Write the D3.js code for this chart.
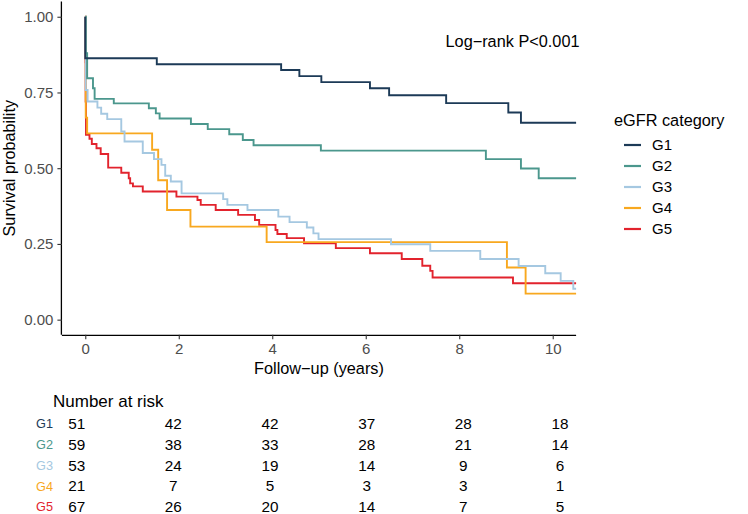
<!DOCTYPE html>
<html>
<head>
<meta charset="utf-8">
<script src="https://cdn.jsdelivr.net/npm/d3@7"></script>
<style>
  html, body { margin: 0; padding: 0; background: #ffffff; }
  svg { display: block; font-family: "Liberation Sans", Arial, Helvetica, sans-serif; }
</style>
</head>
<body>
<svg id="chart" width="748" height="514"></svg>
<script>
// ---------------- data ----------------
const groups = ["G1", "G2", "G3", "G4", "G5"];
const groupColors = ["#1c3a57", "#4b978d", "#a5c8e1", "#f8a81f", "#e2232d"];

const g1Times = [0, 0, 1.53, 4.19, 4.58, 5.05, 6.09, 6.50, 7.72, 9.05, 9.32, 10.5];
const g1Surv  = [1, 0.863, 0.843, 0.824, 0.804, 0.784, 0.764, 0.741, 0.715, 0.684, 0.650, 0.650];

const g2Times = [0, 0.01, 0.04, 0.165, 0.20, 0.61, 1.36, 1.51, 1.59, 2.26, 2.62, 3.08, 3.37, 3.60, 5.04, 8.57, 9.32, 9.70, 10.5];
const g2Surv  = [1, 0.88, 0.797, 0.764, 0.729, 0.714, 0.698, 0.681, 0.664, 0.646, 0.629, 0.612, 0.593, 0.576, 0.558, 0.530, 0.499, 0.467, 0.467];

const g3Times = [0, 0.01, 0.05, 0.26, 0.34, 0.47, 0.77, 0.84, 1.23, 1.47, 1.63, 1.71, 1.83, 2.06, 2.95, 3.04, 3.47, 4.13, 4.37, 4.74, 4.88, 4.99, 6.54, 7.38, 8.45, 9.27, 9.84, 10.17, 10.44, 10.5];
const g3Surv  = [1, 0.758, 0.72, 0.70, 0.68, 0.662, 0.621, 0.588, 0.55, 0.53, 0.511, 0.475, 0.456, 0.417, 0.398, 0.379, 0.362, 0.340, 0.322, 0.304, 0.285, 0.266, 0.249, 0.227, 0.200, 0.177, 0.153, 0.128, 0.102, 0.102];

const g4Times = [0, 0.01, 0.04, 1.43, 1.56, 1.75, 2.25, 3.88, 9.02, 9.42, 10.5];
const g4Surv  = [1, 0.667, 0.615, 0.561, 0.460, 0.362, 0.307, 0.256, 0.172, 0.086, 0.086];

const g5Times = [0, 0.003, 0.008, 0.015, 0.09, 0.14, 0.24, 0.33, 0.49, 0.77, 0.93, 0.96, 1.02, 1.23, 1.95, 2.40, 2.47, 2.79, 3.27, 3.63, 3.72, 4.07, 4.11, 4.31, 4.68, 5.36, 6.09, 6.77, 7.21, 7.38, 7.43, 9.15, 10.5];
const g5Surv  = [1, 0.85, 0.72, 0.61, 0.597, 0.58, 0.566, 0.547, 0.502, 0.485, 0.467, 0.450, 0.440, 0.423, 0.406, 0.395, 0.379, 0.362, 0.346, 0.329, 0.313, 0.296, 0.283, 0.269, 0.252, 0.236, 0.219, 0.200, 0.178, 0.161, 0.139, 0.120, 0.120];

const xTicks = [0, 2, 4, 6, 8, 10];
const yTicks = [0, 0.25, 0.5, 0.75, 1];
const yTickLabels = ["0.00", "0.25", "0.50", "0.75", "1.00"];

const riskTimes = [0, 2, 4, 6, 8, 10];
const g1Risk = [51, 42, 42, 37, 28, 18];
const g2Risk = [59, 38, 33, 28, 21, 14];
const g3Risk = [53, 24, 19, 14, 9, 6];
const g4Risk = [21, 7, 5, 3, 3, 1];
const g5Risk = [67, 26, 20, 14, 7, 5];

const pText = "Log\u2212rank P<0.001";
const xTitle = "Follow\u2212up (years)";
const yTitle = "Survival probability";
const legendTitle = "eGFR category";
const riskTitle = "Number at risk";

// ---------------- build ----------------
const series = [
  { name: "G1", t: g1Times, s: g1Surv, risk: g1Risk },
  { name: "G2", t: g2Times, s: g2Surv, risk: g2Risk },
  { name: "G3", t: g3Times, s: g3Surv, risk: g3Risk },
  { name: "G4", t: g4Times, s: g4Surv, risk: g4Risk },
  { name: "G5", t: g5Times, s: g5Surv, risk: g5Risk }
].map((d, i) => ({ ...d, color: groupColors[i], pts: d.t.map((tt, j) => [tt, d.s[j]]) }));

const svg = d3.select("#chart");

const x = d3.scaleLinear().domain([-0.5, 10.5]).range([61.9, 576.1]);
const y = d3.scaleLinear().domain([-0.05, 1.05]).range([334.8, 1.6]);

const gridText = "#4d4d4d";

// curves
const line = d3.line().x(d => x(d[0])).y(d => y(d[1])).curve(d3.curveStepAfter);
svg.append("g").selectAll("path").data(series.slice().reverse()).join("path")
  .attr("d", d => line(d.pts))
  .attr("fill", "none")
  .attr("stroke", d => d.color)
  .attr("stroke-width", 1.9);

// axes
const xAxis = svg.append("g").attr("transform", `translate(0,${y(-0.05)})`)
  .call(d3.axisBottom(x).tickValues(xTicks).tickSize(4.5).tickPadding(4).tickFormat(d3.format("d")));
const yAxis = svg.append("g").attr("transform", `translate(${x(-0.5)},0)`)
  .call(d3.axisLeft(y).tickValues(yTicks).tickSize(4.5).tickPadding(4).tickFormat((d, i) => yTickLabels[i]));
[xAxis, yAxis].forEach(a => {
  a.select(".domain").attr("stroke", "#000").attr("stroke-width", 1.3);
  a.selectAll(".tick line").attr("stroke", "#333").attr("stroke-width", 1.1);
  a.selectAll(".tick text").attr("fill", gridText).style("font-size", "15px")
    .style("font-family", '"Liberation Sans", Arial, sans-serif');
});
xAxis.select(".domain").attr("d", `M${x(-0.5)},0.5H${x(10.5)}`);
yAxis.select(".domain").attr("d", `M-0.5,${y(-0.05)}V${y(1.05)}`);

// titles
svg.append("text").attr("x", (x(-0.5) + x(10.5)) / 2).attr("y", 374)
  .attr("text-anchor", "middle").style("font-size", "16.3px").attr("fill", "#000").text(xTitle);
svg.append("text").attr("transform", `translate(15,${(y(-0.05) + y(1.05)) / 2}) rotate(-90)`)
  .attr("text-anchor", "middle").style("font-size", "16.3px").attr("fill", "#000").text(yTitle);
svg.append("text").attr("x", 579.5).attr("y", 46.7).attr("text-anchor", "end")
  .style("font-size", "16.3px").attr("fill", "#000").text(pText);

// legend
const legY = d3.scalePoint().domain(groups).range([145, 229]);
svg.append("text").attr("x", 614).attr("y", 126).style("font-size", "16.3px").attr("fill", "#000").text(legendTitle);
const leg = svg.append("g").selectAll("g").data(series).join("g")
  .attr("transform", d => `translate(0,${legY(d.name)})`);
leg.append("line").attr("x1", 624).attr("x2", 641).attr("y1", 0).attr("y2", 0)
  .attr("stroke", d => d.color).attr("stroke-width", 2.2);
leg.append("text").attr("x", 652).attr("y", 0).attr("dy", "0.36em")
  .style("font-size", "15px").attr("fill", "#000").text(d => d.name);

// risk table
const xr = d3.scaleLinear().domain([0, 10]).range([76.7, 560]);
const ry = d3.scalePoint().domain(groups).range([423.8, 506.7]);
svg.append("text").attr("x", 53).attr("y", 407.3).style("font-size", "17px").attr("fill", "#000").text(riskTitle);
const rows = svg.append("g").selectAll("g").data(series).join("g")
  .attr("transform", d => `translate(0,${ry(d.name)})`);
rows.append("text").attr("x", 53).attr("y", 0).attr("dy", "0.36em").attr("text-anchor", "end")
  .style("font-size", "12.7px").attr("fill", d => d.color).text(d => d.name);
rows.selectAll("text.n").data(d => d.risk.map((v, i) => ({ v, t: riskTimes[i] }))).join("text")
  .attr("class", "n").attr("x", d => xr(d.t)).attr("y", 0).attr("dy", "0.36em")
  .attr("text-anchor", "middle").style("font-size", "15.3px").attr("fill", "#000").text(d => d.v);
</script>
</body>
</html>
